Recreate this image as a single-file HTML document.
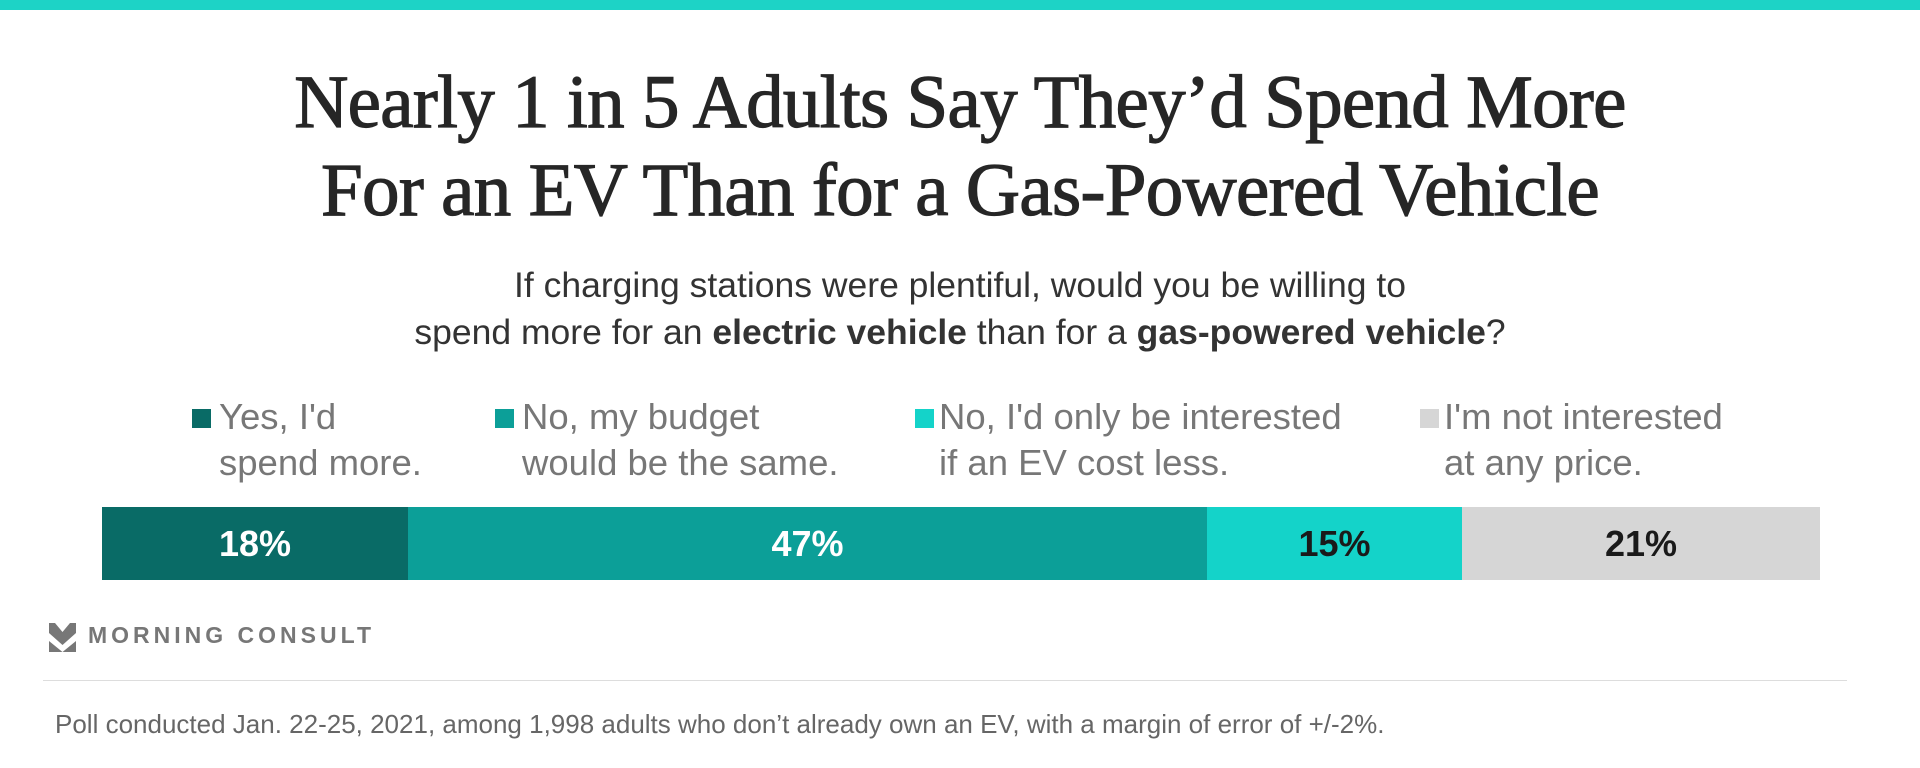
<!DOCTYPE html>
<html><head><meta charset="utf-8"><style>
body{margin:0;width:1920px;height:768px;background:#fff;position:relative;overflow:hidden;font-family:"Liberation Sans",sans-serif}
.abs{position:absolute}
.top{left:0;top:0;width:1920px;height:10px;background:#1dd3c6}
.title{left:0;width:1920px;text-align:center;font-family:"Liberation Serif",serif;font-size:75px;color:#262626;line-height:88px;top:59px;font-weight:normal;letter-spacing:-0.7px;-webkit-text-stroke:1.2px #262626}
.sub{left:0;width:1920px;text-align:center;font-size:35.5px;color:#333;line-height:47px;top:262px}
.leg{font-size:36.5px;color:#777;line-height:46px;top:394px}
.sq{width:19px;height:19px;top:409px}
.seg{top:507px;height:73px;color:#fff;font-weight:bold;font-size:36px;line-height:73px;text-align:center}
.logo{left:49px;top:622px;font-size:23px;font-weight:bold;color:#777;letter-spacing:4px}
.line{left:43px;top:680px;width:1804px;height:1px;background:#ddd}
.foot{left:55px;top:709px;font-size:26px;color:#666}
</style></head><body>
<div class="abs top"></div>
<div class="abs title">Nearly 1 in 5 Adults Say They’d Spend More<br>For an EV Than for a Gas-Powered Vehicle</div>
<div class="abs sub">If charging stations were plentiful, would you be willing to<br>spend more for an <b>electric vehicle</b> than for a <b>gas-powered vehicle</b>?</div>
<div class="abs sq" style="left:192px;background:#096b66"></div>
<div class="abs leg" style="left:219px">Yes, I'd<br>spend more.</div>
<div class="abs sq" style="left:495px;background:#0c9f98"></div>
<div class="abs leg" style="left:522px">No, my budget<br>would be the same.</div>
<div class="abs sq" style="left:915px;background:#14d3c9"></div>
<div class="abs leg" style="left:939px">No, I'd only be interested<br>if an EV cost less.</div>
<div class="abs sq" style="left:1420px;background:#d6d6d6"></div>
<div class="abs leg" style="left:1444px">I'm not interested<br>at any price.</div>
<div class="abs seg" style="left:102px;width:306px;background:#096b66">18%</div>
<div class="abs seg" style="left:408px;width:799px;background:#0c9f98">47%</div>
<div class="abs seg" style="left:1207px;width:255px;background:#14d3c9;color:#1a1a1a">15%</div>
<div class="abs seg" style="left:1462px;width:358px;background:#d6d6d6;color:#1a1a1a">21%</div>
<svg class="abs" style="left:49px;top:623px" width="27" height="29" viewBox="0 0 27 29"><path d="M0 0 L6 0 L13.5 9 L21 0 L27 0 L27 10 L13.5 22 L0 10Z M0 18 L13.5 29 L0 29Z M27 18 L27 29 L13.5 29Z" fill="#777"/></svg>
<div class="abs logo" style="left:88px">MORNING CONSULT</div>
<div class="abs line"></div>
<div class="abs foot">Poll conducted Jan. 22-25, 2021, among 1,998 adults who don’t already own an EV, with a margin of error of +/-2%.</div>
</body></html>
